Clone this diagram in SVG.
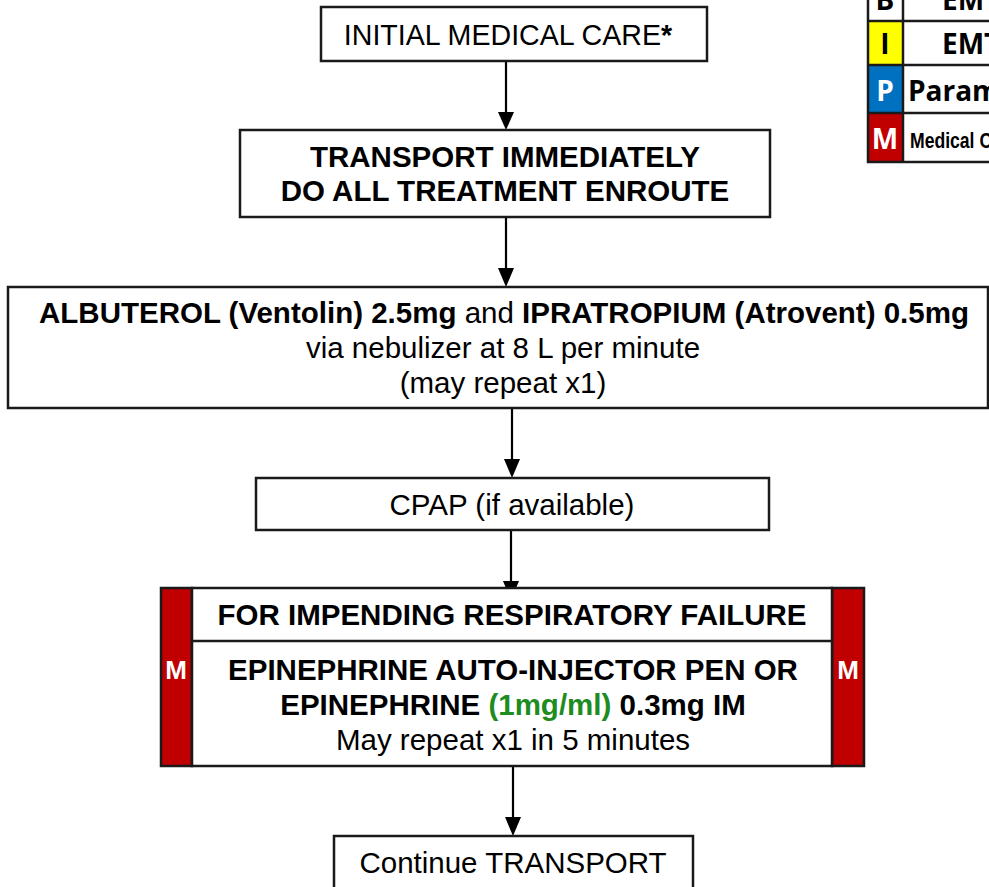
<svg xmlns="http://www.w3.org/2000/svg" width="989" height="887" viewBox="0 0 989 887">
<defs>
<style>
.box{fill:#fff;stroke:#1a1a1a;stroke-width:2.5}
.bar{fill:#c00000;stroke:#1a1a1a;stroke-width:2.5}
.t{font-family:"Liberation Sans",Arial,sans-serif;font-size:29.5px;fill:#000;text-anchor:middle}
.b{font-weight:bold}
.edge{stroke:#000;stroke-width:2.2;fill:none}
.lg{font-family:"Open Sans","Noto Sans",sans-serif;font-weight:bold;font-size:28px}
.cell{stroke:#1a1a1a;stroke-width:2.5}
</style>
</defs>

<g id="connectors">
<line class="edge" x1="506" y1="61" x2="506" y2="113"/><path d="M498,112 L514,112 L506,130 Z"/>
<line class="edge" x1="506" y1="217" x2="506" y2="269"/><path d="M498,268 L514,268 L506,287 Z"/>
<line class="edge" x1="512" y1="408" x2="512" y2="460"/><path d="M504,459 L520,459 L512,478 Z"/>
<line class="edge" x1="511" y1="530" x2="511" y2="582"/><path d="M503,581 L519,581 L511,600 Z"/>
<line class="edge" x1="513" y1="766" x2="513" y2="818"/><path d="M505,817 L521,817 L513,836 Z"/>
</g>

<g id="n1">
<rect class="box" x="321" y="7" width="386" height="54"/>
<text class="t" x="508" y="45" style="font-size:28.6px">INITIAL MEDICAL CARE<tspan class="b">*</tspan></text>
</g>

<g id="n2">
<rect class="box" x="240" y="130" width="530" height="87"/>
<text class="t b" x="505" y="167">TRANSPORT IMMEDIATELY</text>
<text class="t b" x="505" y="201">DO ALL TREATMENT ENROUTE</text>
</g>

<g id="n3">
<rect class="box" x="8" y="287" width="980" height="121"/>
<text class="t" x="504" y="323"><tspan class="b">ALBUTEROL (Ventolin) 2.5mg</tspan> and <tspan class="b">IPRATROPIUM (Atrovent) 0.5mg</tspan></text>
<text class="t" x="503" y="358">via nebulizer at 8 L per minute</text>
<text class="t" x="503" y="393">(may repeat x1)</text>
</g>

<g id="n4">
<rect class="box" x="256" y="478" width="513" height="52"/>
<text class="t" x="512" y="515">CPAP (if available)</text>
</g>

<g id="n5">
<rect class="bar" x="161" y="588" width="31" height="178"/>
<rect class="bar" x="832" y="588" width="32" height="178"/>
<rect class="box" x="192" y="588" width="640" height="178"/>
<line class="cell" x1="192" y1="641" x2="832" y2="641"/>
<text class="t b" x="176" y="679" style="fill:#fff;font-size:26px">M</text>
<text class="t b" x="848" y="679" style="fill:#fff;font-size:26px">M</text>
<text class="t b" x="512" y="625">FOR IMPENDING RESPIRATORY FAILURE</text>
<text class="t b" x="513" y="680">EPINEPHRINE AUTO-INJECTOR PEN OR</text>
<text class="t b" x="513" y="715">EPINEPHRINE <tspan style="fill:#1e8c1e">(1mg/ml)</tspan> 0.3mg IM</text>
<text class="t" x="513" y="750">May repeat x1 in 5 minutes</text>
</g>

<g id="n6">
<rect class="box" x="334" y="836" width="359" height="60"/>
<text class="t" x="513" y="873">Continue TRANSPORT</text>
</g>

<g id="legend">
<rect x="868" y="-5" width="35" height="26" fill="#fff"/>
<rect x="868" y="21" width="35" height="44" fill="#ffff00"/>
<rect x="868" y="65" width="35" height="48" fill="#0070c0"/>
<rect x="868" y="113" width="35" height="49" fill="#c00000"/>
<rect x="903" y="-5" width="90" height="167" fill="#fff"/>
<rect class="cell" x="868" y="-5" width="130" height="167" fill="none"/>
<line class="cell" x1="903" y1="-5" x2="903" y2="162"/>
<line class="cell" x1="868" y1="21" x2="998" y2="21"/>
<line class="cell" x1="868" y1="65" x2="998" y2="65"/>
<line class="cell" x1="868" y1="113" x2="998" y2="113"/>
<text class="lg" x="885" y="10" text-anchor="middle">B</text>
<text class="lg" x="942" y="10">EMT-Basic</text>
<text class="lg" x="885" y="54" text-anchor="middle">I</text>
<text class="lg" x="942" y="54">EMT-Intermediate</text>
<text class="lg" x="885" y="101" text-anchor="middle" fill="#fff">P</text>
<text class="lg" x="908" y="101">Paramedic</text>
<text class="lg" x="885" y="149" text-anchor="middle" fill="#fff">M</text>
<text x="910" y="148" font-family="Liberation Sans,Arial,sans-serif" font-weight="bold" font-size="22" transform="translate(910 0) scale(0.8 1) translate(-910 0)">Medical Control</text>
</g>
</svg>
